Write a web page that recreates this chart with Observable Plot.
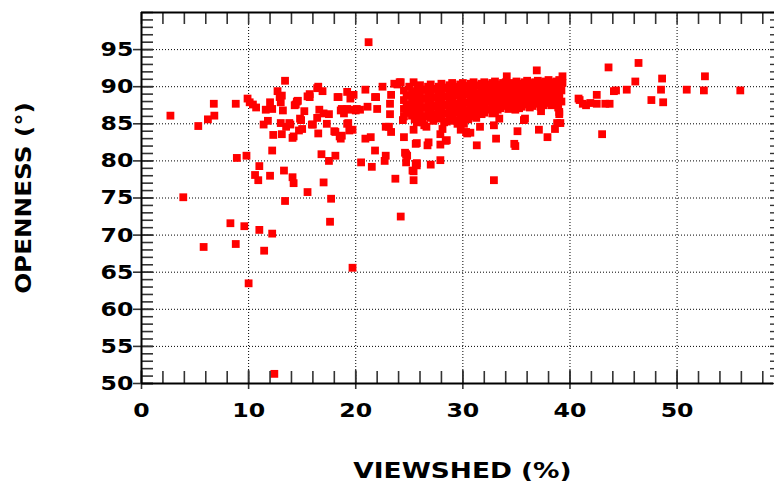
<!DOCTYPE html>
<html><head><meta charset="utf-8">
<script src="https://cdn.jsdelivr.net/npm/d3@7"></script>
<script src="https://cdn.jsdelivr.net/npm/@observablehq/plot@0.6"></script>
<style>
html,body{margin:0;padding:0;background:#fff;overflow:hidden}
</style></head><body><div id="chart"></div>
<script>
// [viewshed %, openness °]
const sparsePoints = [
[2.7,86.1],[3.9,75.1],[5.3,84.7],[6.2,85.6],[6.8,86.1],[6.75,87.7],[5.8,68.4],[8.3,71.6],[8.8,68.8],[9.6,71.2],
[11.0,70.7],[11.45,67.9],[12.2,70.2],[10.0,63.5],[12.4,51.3],[24.2,72.5],[19.7,65.6],
[13.4,74.6],[15.5,75.8],[17.7,74.9],[17.6,71.8],[14.2,77.0],[17.0,77.1],[14.1,77.8],[13.3,78.7],
[9.8,80.7],[8.9,80.4],[8.8,87.7],[9.9,88.4],[10.1,87.9],[10.4,87.6],[10.7,87.2],[11.0,79.3],[10.6,78.1],[10.9,77.4],[12.0,78.0],[12.2,81.4],
[11.6,86.9],[12.0,87.9],[11.8,85.4],[11.4,84.9],[12.7,89.4],[13.1,88.8],[13.2,86.8],[12.3,83.5],[13.1,83.6],[13.0,85.1],[13.4,90.8],[12.9,88.6],[12.2,87.0],[13.0,87.9],
[13.9,84.9],[14.2,83.3],[14.4,87.6],[14.6,88.1],[15.0,84.3],[14.9,85.5],[15.2,86.7],[15.7,88.6],[16.0,84.9],[16.4,89.8],[16.9,89.4],[16.6,86.9],[16.4,85.8],[16.5,83.7],
[17.5,86.3],[17.3,85.0],[16.8,80.9],[17.5,80.0],[18.1,80.7],[18.3,88.6],[18.6,86.8],[18.1,83.9],[18.5,83.3],[19.2,89.3],[19.2,85.0],[19.4,84.1],
[13.8,85.1],[13.5,84.6],[14.7,84.1],[14.8,85.7],[14.3,87.5],[14.5,88.0],[14.1,83.1],
[21.2,96.0],[16.5,90.0],[15.7,89.0],[15.5,88.7],[15.9,84.9],[17.0,86.4],[18.4,88.6],[19.8,88.9],[19.5,88.4],[18.7,87.0],[18.9,86.4],[19.4,86.9],
[20.0,86.8],[20.4,86.9],[21.1,87.3],[20.9,89.6],[21.8,88.6],[22.5,90.0],[22.0,87.0],[19.7,84.2],[18.0,84.0],[18.6,83.0],[20.9,83.0],[21.4,83.2],
[21.8,81.4],[20.5,79.8],[21.5,79.2],[22.8,80.7],[22.7,80.0],[23.7,77.6],[23.9,90.3],[24.2,90.6],[25.4,90.6],[24.7,80.9],[24.8,80.7],[24.7,79.8],
[25.7,79.4],[25.3,78.7],[25.4,77.4],[24.5,83.2],[25.6,82.3],[23.1,84.6],[23.3,83.9],
[23.3,88.9],[20.1,87.0],[19.2,87.0],[23.2,87.7],[23.2,86.3],[24.4,85.5],[19.3,85.1],[18.7,83.4],[24.6,81.1],[25.7,79.7],[27.0,79.5],[27.9,80.1],
[22.8,84.6],[25.7,82.4],[26.7,82.1],[26.8,82.5],[27.9,82.2],[28.5,82.8],[26.6,84.6],[25.4,84.2],[27.9,83.6],[31.3,82.1],[31.6,84.6],[32.9,77.4],
[33.1,83.0],[34.9,82.0],[35.1,84.0],[35.7,85.5],[34.9,86.9],[37.1,84.2],[37.3,86.7],[37.9,83.2],[38.8,85.1],[39.0,86.6],[30.1,85.0],[29.5,85.0],
[30.4,83.7],[32.9,84.8],[28.9,85.7],[27.9,85.7],[28.1,84.3],
[34.1,91.4],[30.3,83.9],[30.7,83.8],[29.8,84.2],[28.4,82.7],[25.6,79.6],[25.4,78.6],[34.8,82.3],[26.4,84.8],[25.7,85.2],[33.4,85.7],[35.8,85.7],
[36.9,92.2],[39.3,91.4],[40.8,88.4],[41.5,87.5],[41.9,87.8],[42.5,88.9],[42.5,87.7],[39.0,86.3],[43.0,83.6],[43.6,92.6],[46.4,93.2],[41.2,87.7],
[43.3,87.7],[43.7,87.7],[44.1,89.4],[44.3,89.5],[45.3,89.6],[46.1,90.7],[47.6,88.2],[48.5,89.6],[48.6,91.1],[48.7,87.9],[50.9,89.6],[52.5,89.5],
[52.6,91.4],[55.9,89.5],[39.1,85.1],[23.6,90.4],[24.1,90.6],[21.9,88.6],[38.6,84.3],[39.2,88.0],[39.2,89.5],[38.9,87.2],[39.3,90.5],[40.9,88.2]
];
const densePoints = [
[24.5,89.5],[24.5,88.2],[24.5,87.0],[24.5,86.0],
[25.0,90.0],[25.0,88.8],[25.0,87.5],[25.0,86.5],
[25.5,89.2],[25.5,88.0],[25.5,86.8],[25.5,85.6],
[26.0,90.2],[26.0,89.0],[26.0,87.8],[26.0,86.6],[26.0,85.4],
[26.5,89.6],[26.5,88.4],[26.5,87.2],[26.5,86.0],
[27.0,90.3],[27.0,89.1],[27.0,88.0],[27.0,86.9],[27.0,85.8],
[27.5,89.7],[27.5,88.6],[27.5,87.4],[27.5,86.3],
[28.0,90.4],[28.0,89.3],[28.0,88.1],[28.0,87.0],[28.0,85.9],
[28.5,89.8],[28.5,88.7],[28.5,87.6],[28.5,86.4],[28.5,85.3],
[29.0,90.5],[29.0,89.4],[29.0,88.2],[29.0,87.1],[29.0,86.0],
[29.5,90.0],[29.5,88.9],[29.5,87.7],[29.5,86.6],[29.5,85.5],
[30.0,90.5],[30.0,89.5],[30.0,88.4],[30.0,87.3],[30.0,86.2],
[30.5,90.1],[30.5,89.0],[30.5,87.9],[30.5,86.8],[30.5,85.6],
[31.0,90.6],[31.0,89.6],[31.0,88.5],[31.0,87.4],[31.0,86.4],
[31.5,90.2],[31.5,89.1],[31.5,88.0],[31.5,86.9],
[32.0,90.6],[32.0,89.7],[32.0,88.6],[32.0,87.5],[32.0,86.5],
[32.5,90.3],[32.5,89.2],[32.5,88.1],[32.5,87.0],
[33.0,90.7],[33.0,89.8],[33.0,88.7],[33.0,87.6],[33.0,86.6],
[33.5,90.3],[33.5,89.3],[33.5,88.2],[33.5,87.1],
[34.0,90.6],[34.0,89.8],[34.0,88.8],[34.0,87.7],
[34.5,90.4],[34.5,89.4],[34.5,88.3],[34.5,87.2],
[35.0,90.7],[35.0,89.9],[35.0,88.9],[35.0,87.8],
[35.5,90.4],[35.5,89.5],[35.5,88.4],[35.5,87.3],
[36.0,90.8],[36.0,89.9],[36.0,89.0],[36.0,87.9],
[36.5,90.5],[36.5,89.6],[36.5,88.5],[36.5,87.4],
[37.0,90.8],[37.0,90.0],[37.0,89.0],[37.0,88.0],
[37.5,90.6],[37.5,89.6],[37.5,88.6],[37.5,87.5],
[38.0,90.9],[38.0,90.0],[38.0,89.1],[38.0,88.0],
[38.5,90.6],[38.5,89.7],[38.5,88.7],
[39.0,90.9],[39.0,90.1],[39.0,89.2],[39.0,88.3]
];
const densePointsB = [
[24.75,88.85],[24.75,87.6],[24.75,86.5],
[25.25,89.4],[25.25,88.4],[25.25,87.2],[25.25,86.1],
[25.75,89.6],[25.75,88.4],[25.75,87.2],[25.75,86.0],
[26.25,89.6],[26.25,88.4],[26.25,87.2],[26.25,86.0],[26.25,85.2],
[26.75,90.0],[26.75,88.8],[26.75,87.6],[26.75,86.5],
[27.25,89.7],[27.25,88.5],[27.25,87.4],[27.25,86.3],[27.25,85.4],
[27.75,90.0],[27.75,88.9],[27.75,87.7],[27.75,86.6],
[28.25,89.9],[28.25,88.7],[28.25,87.5],[28.25,86.4],[28.25,85.2],
[28.75,90.2],[28.75,89.0],[28.75,87.9],[28.75,86.7],[28.75,85.6],
[29.25,89.9],[29.25,88.8],[29.25,87.6],[29.25,86.5],[29.25,85.4],
[29.75,90.3],[29.75,89.2],[29.75,88.0],[29.75,86.9],[29.75,85.8],
[30.25,90.0],[30.25,89.0],[30.25,87.8],[30.25,86.7],[30.25,85.7],
[30.75,90.4],[30.75,89.3],[30.75,88.2],[30.75,87.1],[30.75,86.0],
[31.25,90.1],[31.25,89.0],[31.25,87.9],[31.25,86.8],[31.25,85.8],
[31.75,90.4],[31.75,89.4],[31.75,88.3],[31.75,87.2],[31.75,86.3],
[32.25,90.1],[32.25,89.1],[32.25,88.0],[32.25,86.9],
[32.75,90.5],[32.75,89.5],[32.75,88.4],[32.75,87.3],[32.75,86.4],
[33.25,90.1],[33.25,89.0],[33.25,87.9],[33.25,86.9],
[33.75,90.5],[33.75,89.5],[33.75,88.5],[33.75,87.4],
[34.25,90.1],[34.25,89.1],[34.25,88.0],[34.25,87.0],
[34.75,90.5],[34.75,89.6],[34.75,88.6],[34.75,87.5],
[35.25,90.2],[35.25,89.2],[35.25,88.1],[35.25,87.1],
[35.75,90.6],[35.75,89.7],[35.75,88.7],[35.75,87.6],
[36.25,90.3],[36.25,89.3],[36.25,88.2],[36.25,87.2],
[36.75,90.6],[36.75,89.8],[36.75,88.8],[36.75,87.7],
[37.25,90.3],[37.25,89.3],[37.25,88.3],[37.25,87.3],
[37.75,90.7],[37.75,89.8],[37.75,88.9],[37.75,87.8],
[38.25,90.3],[38.25,89.4],[38.25,88.4],[38.25,87.5],
[38.75,90.7],[38.75,89.9],[38.75,89.0],[38.75,88.0]
];
const xMajorTicks = [0, 10, 20, 30, 40, 50];
const xGridLines = [10, 20, 30, 40, 50];
const yMajorTicks = [50, 55, 60, 65, 70, 75, 80, 85, 90, 95];
const yGridLines = [55, 60, 65, 70, 75, 80, 85, 90, 95];
const xMinorTicks = d3.range(0, 60, 2);
const yMinorTicks = d3.range(50, 101, 1);
const xTitle = "VIEWSHED (%)";
const yTitle = "OPENNESS (°)";

const data = sparsePoints.concat(densePoints, densePointsB).map(([v, o]) => ({viewshed: v, openness: o}));

const font = "'DejaVu Sans', Verdana, sans-serif";
const tickColor = "#333";
const dotted = {stroke: "#000", strokeOpacity: 1, strokeWidth: 1, strokeDasharray: "1,2"};

const chart = Plot.plot({
  width: 774,
  height: 492,
  marginLeft: 141,
  marginRight: 1,
  marginTop: 12,
  marginBottom: 109,
  style: {fontFamily: font, fontWeight: "bold", background: "#fff", color: "#000"},
  x: {domain: [0, 59], axis: null},
  y: {domain: [50, 100], axis: null},
  marks: [
    Plot.gridX(xGridLines, dotted),
    Plot.gridY(yGridLines, dotted),
    Plot.dot(data, {x: "viewshed", y: "openness", symbol: "square", r: 4.4, fill: "#ff0000", stroke: null}),
    // bottom ticks
    Plot.ruleX(xMinorTicks, {stroke: tickColor, strokeWidth: 1.6, insetTop: 359}),
    Plot.ruleX(xMajorTicks, {stroke: tickColor, strokeWidth: 1.6, insetTop: 358, insetBottom: -6}),
    // top ticks
    Plot.ruleX(xMinorTicks, {stroke: tickColor, strokeWidth: 1.6, insetBottom: 359}),
    // left ticks
    Plot.ruleY(yMinorTicks, {stroke: tickColor, strokeWidth: 1.6, insetRight: 620}),
    Plot.ruleY(yMajorTicks, {stroke: tickColor, strokeWidth: 1.6, insetRight: 620, insetLeft: -8}),
    // right ticks
    Plot.ruleY(yMinorTicks, {stroke: tickColor, strokeWidth: 1.4, insetLeft: 629, insetRight: -1}),
    // frame lines
    Plot.ruleX([0], {stroke: "#000", strokeWidth: 2}),
    Plot.ruleY([50], {stroke: "#000", strokeWidth: 2}),
    Plot.ruleY([100], {stroke: "#000", strokeWidth: 2, insetRight: -1}),
    // tick labels
    Plot.axisX(xMajorTicks, {anchor: "bottom", tickSize: 0, tickPadding: 19, label: null, fontSize: 20, fontWeight: "bold", fontFamily: font}),
    Plot.axisY(yMajorTicks, {anchor: "left", tickSize: 0, tickPadding: 8, label: null, fontSize: 20, fontWeight: "bold", fontFamily: font}),
    // titles
    Plot.text([xTitle], {frameAnchor: "bottom", textAnchor: "middle", dy: 94, dx: 5, text: d => d, fontSize: 22, fontWeight: "bold", fontFamily: font}),
    Plot.text([yTitle], {frameAnchor: "left", textAnchor: "middle", dx: -118, rotate: -90, text: d => d, fontSize: 22, fontWeight: "bold", fontFamily: font})
  ]
});
document.getElementById("chart").appendChild(chart);
// the reference uses a wider bold face: stretch the glyphs horizontally
const stretchText = (el, factor) => {
  const w = el.getComputedTextLength();
  el.setAttribute("textLength", (w * factor).toFixed(1));
  el.setAttribute("lengthAdjust", "spacingAndGlyphs");
};
d3.select(chart).selectAll("text").each(function() {
  const t = this.textContent;
  if (t === xTitle) stretchText(this, 1.2);
  else if (t === yTitle) stretchText(this, 1.12);
  else stretchText(this, 1.18);
});
</script>
</body></html>
